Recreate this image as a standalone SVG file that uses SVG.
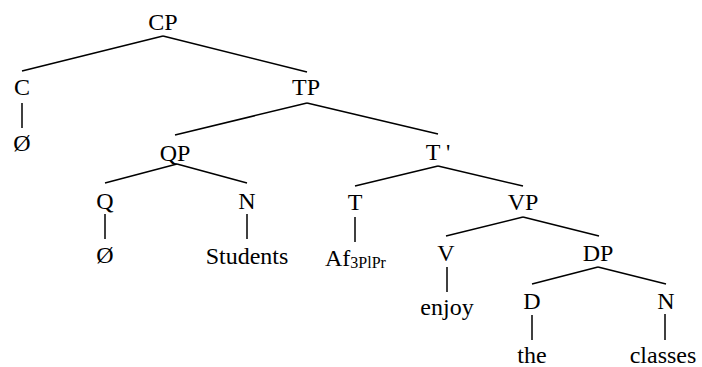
<svg xmlns="http://www.w3.org/2000/svg" width="702" height="367" viewBox="0 0 702 367">
<style>
text{font-family:"Liberation Serif","Times New Roman",serif;font-size:24px;fill:#000;text-anchor:middle}
.e line{stroke:#000;stroke-width:1.5;stroke-linecap:butt}
</style>
<rect width="702" height="367" fill="#fff"/>
<g class="e" id="connectors">
<line x1="163" y1="36" x2="22" y2="71"/>
<line x1="163" y1="36" x2="307" y2="72"/>
<line x1="22" y1="103" x2="22" y2="128"/>
<line x1="307" y1="103" x2="175" y2="135"/>
<line x1="307" y1="103" x2="438" y2="134"/>
<line x1="177" y1="164" x2="105" y2="183"/>
<line x1="177" y1="164" x2="247" y2="183"/>
<line x1="105" y1="214" x2="105" y2="239"/>
<line x1="247" y1="214" x2="247" y2="239"/>
<line x1="438" y1="166" x2="355" y2="186"/>
<line x1="438" y1="166" x2="523" y2="186"/>
<line x1="355" y1="217" x2="355" y2="242"/>
<line x1="523" y1="217" x2="446" y2="236"/>
<line x1="523" y1="217" x2="599" y2="236"/>
<line x1="447" y1="267" x2="447" y2="292"/>
<line x1="598" y1="267" x2="532" y2="284"/>
<line x1="598" y1="267" x2="666" y2="284"/>
<line x1="532" y1="315" x2="532" y2="340"/>
<line x1="665" y1="314" x2="665" y2="340"/>
</g>
<g id="CP"><text x="163" y="30">CP</text></g>
<g id="C"><text x="22" y="95">C</text></g>
<g id="C-null"><text x="22" y="151">Ø</text></g>
<g id="TP"><text x="306" y="95">TP</text></g>
<g id="QP"><text x="175" y="161">QP</text></g>
<g id="Tbar"><text x="438" y="160">T '</text></g>
<g id="Q"><text x="105" y="209">Q</text></g>
<g id="Q-null"><text x="105" y="263">Ø</text></g>
<g id="N1"><text x="247" y="209">N</text></g>
<g id="Students"><text x="247" y="264">Students</text></g>
<g id="T"><text x="355" y="210">T</text></g>
<g id="Af"><text x="325" y="266" style="text-anchor:start">Af<tspan font-size="16" dy="2">3PlPr</tspan></text></g>
<g id="VP"><text x="523" y="210">VP</text></g>
<g id="V"><text x="446" y="261">V</text></g>
<g id="enjoy"><text x="447" y="315">enjoy</text></g>
<g id="DP"><text x="598" y="261">DP</text></g>
<g id="D"><text x="532" y="309">D</text></g>
<g id="the"><text x="532" y="363">the</text></g>
<g id="N2"><text x="666" y="309">N</text></g>
<g id="classes"><text x="663" y="363">classes</text></g>
</svg>
